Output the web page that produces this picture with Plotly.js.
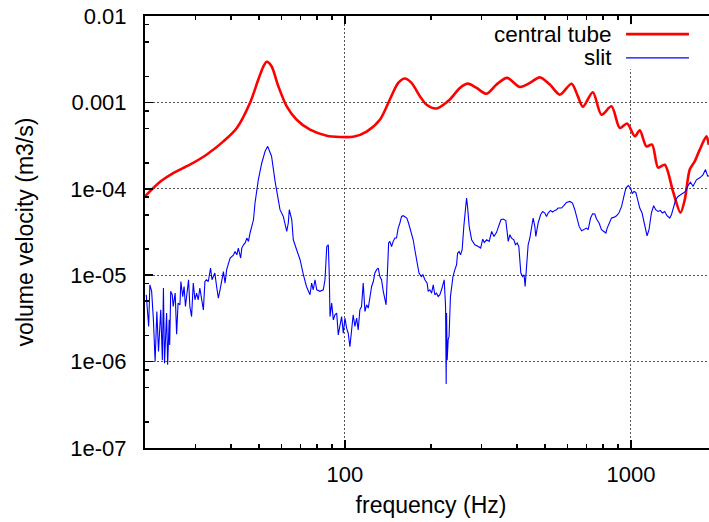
<!DOCTYPE html>
<html>
<head>
<meta charset="utf-8">
<script src="https://cdn.plot.ly/plotly-3.0.1.min.js"></script>
<style>
  html, body { margin: 0; padding: 0; overflow: hidden; background: #fff; }
  #chart { width: 740px; height: 522px; }
</style>
</head>
<body>
<div id="chart"></div>
<script>
// Volume velocity spectra (m3/s) against frequency (Hz)
var centralFreq = [20, 22.7, 25.1, 28.7, 32.8, 37.6, 41.9, 46.6, 49.8, 51.9,
  53.3, 55.4, 58.5, 62.6, 67.8, 75.5, 86.4, 96.1, 106.9, 119.1,
  132.5, 143.6, 153.6, 162.1, 171, 182.9, 193, 209.1, 232.8, 252.3,
  269.2, 288.6, 312.7, 339, 369.2, 408.9, 443.2, 480.3, 520.6, 564.2,
  619.9, 652.3, 679.1, 736, 789, 855.3, 914.4, 969.7, 1032, 1074,
  1133, 1186, 1245, 1313, 1404, 1490, 1543, 1606, 1672, 1741,
  1837, 1871];
var centralVel = [8.2e-5, 1.22e-4, 1.52e-4, 1.9e-4, 2.48e-4, 3.54e-4, 5.06e-4, 9.9e-4, 1.84e-3, 2.62e-3,
  2.95e-3, 2.62e-3, 1.54e-3, 9.0e-4, 6.3e-4, 4.84e-4, 4.12e-4, 3.98e-4, 4.0e-4, 4.6e-4,
  6.3e-4, 1.08e-3, 1.68e-3, 1.89e-3, 1.68e-3, 1.18e-3, 9.4e-4, 8.5e-4, 1.08e-3, 1.47e-3,
  1.65e-3, 1.47e-3, 1.26e-3, 1.61e-3, 1.92e-3, 1.51e-3, 1.68e-3, 1.95e-3, 1.61e-3, 1.23e-3,
  1.64e-3, 1.18e-3, 8.9e-4, 1.31e-3, 7.2e-4, 9.0e-4, 5.06e-4, 5.7e-4, 4.05e-4, 4.75e-4,
  3.1e-4, 3.24e-4, 1.76e-4, 1.9e-4, 9.3e-5, 5.3e-5, 7.5e-5, 1.67e-4, 2.08e-4, 2.84e-4,
  4.05e-4, 3.24e-4];

var slitFreq = [20.2,20.4,20.6,20.8,21.1,21.4,21.7,22.0,22.3,22.7,
  23.0,23.2,23.4,23.8,24.0,24.3,24.4,24.6,24.9,25.1,
  25.5,25.8,26.1,26.5,26.7,27.1,27.4,27.7,28.0,28.4,
  28.7,29.1,29.5,29.9,30.3,30.7,31.1,31.5,32.0,32.4,
  32.8,33.3,33.9,34.3,35.1,35.6,36.1,36.6,37.1,37.6,
  38.1,38.6,39.2,39.7,40.8,41.3,41.9,42.4,43.2,43.6,
  44.2,44.8,45.4,46.0,46.6,47.9,48.5,49.2,49.8,51.2,
  52.6,53.7,55.4,57.0,58.5,59.3,60.9,62.6,63.4,63.9,
  65.2,66.0,67.8,69.7,71.6,73.4,75.5,76.5,77.5,78.6,
  79.7,81.8,84.0,85.2,86.4,87.5,88.2,88.7,89.9,91.1,
  92.3,93.6,94.8,96.1,97.4,98.7,100,101.4,102.7,104.1,
  105.5,106.9,108.4,109.9,111.3,112.8,114.3,115.9,117.5,119.1,
  120.7,122.3,124.0,125.7,127.3,129.1,130.8,132.5,134.3,136.2,
  139.3,141.1,142.2,143.6,145.6,147.5,149.5,151.5,153.6,155.7,
  157.8,159.9,164.6,166.9,171.0,173.3,175.6,178.0,181.6,185.0,
  187.4,190.4,193.9,195.5,198.2,201.0,203.6,206.3,209.1,211.9,
  214.8,217.7,220.7,222.4,224.9,226.0,226.7,227.8,229.6,231.3,
  233.9,236.9,238.7,242.4,245.7,247.7,250.8,253.7,257.0,260.5,
  264.8,266.3,268.4,272,277.4,284.7,292.5,298.3,303.2,307.1,
  313.1,319.6,325.9,332.1,339.0,343.5,351.1,357.8,365.3,372.5,
  377.3,382.5,389.6,394.8,400.1,405.6,412.2,417.8,423.2,426.7,
  431.5,437.2,443.2,449.3,455.2,461.4,465.1,473.9,483.3,491.2,
  500,506.9,513.4,523.5,532.1,541.9,549.4,556.6,572.1,582.8,
  595.6,611.5,624.9,636.6,648.5,659.2,672.1,686.4,699.8,708.9,
  722.7,734.6,747.8,758.2,774.1,789,804.3,817.4,826.1,839.7,
  855.3,871.8,890.8,907.9,927.8,945.1,960.5,978.4,997.7,1010.6,
  1024.6,1040.4,1060,1074,1094,1109,1127,1139,1157,1179,
  1201,1221,1244,1268,1288,1313,1337,1367,1386,1404,
  1434,1462,1491,1522,1552,1584,1615,1649,1695,1741,
  1786,1823,1855,1886];
var slitVel = [5.94e-6,3.32e-6,2.55e-6,7.74e-6,6.5e-6,3.04e-6,1.0e-6,3.8e-6,1.31e-6,3.97e-6,
  1.04e-6,7.1e-6,9.6e-7,3.64e-6,9.2e-7,3.04e-6,1.56e-6,6.5e-6,5.94e-6,4.34e-6,
  6.2e-6,2.08e-6,4.75e-6,4.54e-6,8.45e-6,5.66e-6,7.4e-6,4.34e-6,6.5e-6,8.85e-6,
  4.34e-6,3.32e-6,8.1e-6,5.19e-6,6.2e-6,5.19e-6,7.1e-6,5.66e-6,3.97e-6,8.45e-6,
  8.85e-6,8.45e-6,1.21e-5,8.85e-6,1.06e-5,7.4e-6,5.43e-6,6.78e-6,9.25e-6,1.10e-5,
  8.1e-6,1.16e-5,1.38e-5,1.58e-5,1.72e-5,1.88e-5,1.72e-5,2.06e-5,1.58e-5,2.06e-5,
  2.25e-5,2.36e-5,2.69e-5,2.46e-5,3.08e-5,4.38e-5,6.85e-5,9.76e-5,1.27e-4,1.99e-4,
  2.72e-4,3.1e-4,2.38e-4,1.22e-4,7.47e-5,5.73e-5,4.79e-5,3.21e-5,4.02e-5,5.73e-5,
  4.38e-5,2.57e-5,1.97e-5,1.51e-5,1.01e-5,7.4e-6,5.94e-6,8.1e-6,6.78e-6,8.85e-6,
  6.78e-6,6.5e-6,6.78e-6,8.85e-6,2.15e-5,2.25e-5,9.66e-6,3.32e-6,4.75e-6,3.04e-6,
  3.48e-6,3.64e-6,2.04e-6,2.79e-6,3.32e-6,2.13e-6,3.18e-6,2.44e-6,2.13e-6,1.49e-6,
  2.55e-6,3.48e-6,2.55e-6,3.18e-6,2.33e-6,3.97e-6,4.34e-6,8.1e-6,3.8e-6,4.54e-6,
  4.16e-6,5.43e-6,7.4e-6,8.45e-6,1.06e-5,1.16e-5,1.21e-5,9.66e-6,8.85e-6,6.5e-6,
  4.54e-6,1.26e-5,2.36e-5,2.46e-5,2.15e-5,2.46e-5,2.69e-5,2.69e-5,3.51e-5,4.02e-5,
  4.79e-5,4.88e-5,4.59e-5,4.02e-5,3.08e-5,2.57e-5,1.97e-5,1.51e-5,1.06e-5,9.66e-6,
  1.01e-5,8.85e-6,8.1e-6,6.5e-6,6.78e-6,6.2e-6,7.74e-6,5.94e-6,6.2e-6,5.66e-6,
  5.94e-6,6.78e-6,7.74e-6,8.85e-6,4.34e-6,5.5e-7,3.64e-6,1.04e-6,1.78e-6,1.95e-6,
  5.66e-6,7.4e-6,9.66e-6,1.16e-5,1.32e-5,1.8e-5,1.88e-5,1.72e-5,1.97e-5,3.67e-5,
  6.25e-5,7.83e-5,6.25e-5,3.67e-5,2.57e-5,2.25e-5,2.15e-5,2.06e-5,2.62e-5,2.39e-5,
  2.57e-5,2.46e-5,3.21e-5,2.81e-5,3.13e-5,3.51e-5,4.38e-5,4.47e-5,4.3e-5,2.46e-5,
  2.94e-5,2.69e-5,2.57e-5,2.25e-5,2.36e-5,2.15e-5,1.06e-5,9.66e-6,1.01e-5,7.4e-6,
  1.38e-5,2.25e-5,2.69e-5,3.36e-5,4.59e-5,3.67e-5,2.81e-5,4.02e-5,5.01e-5,5.47e-5,
  5.24e-5,4.79e-5,5.24e-5,5.62e-5,5.39e-5,5.62e-5,5.73e-5,5.99e-5,5.99e-5,6.37e-5,
  6.96e-5,7.14e-5,6.85e-5,5.73e-5,4.38e-5,3.67e-5,3.27e-5,3.36e-5,3.51e-5,3.36e-5,
  4.59e-5,5.14e-5,5.1e-5,4.47e-5,4.02e-5,3.36e-5,3.21e-5,3.08e-5,3.51e-5,4.02e-5,
  4.59e-5,4.67e-5,4.88e-5,5.24e-5,6.25e-5,8.16e-5,1.02e-4,1.09e-4,1.02e-4,8.77e-5,
  9.33e-5,9.08e-5,7.14e-5,5.99e-5,5.24e-5,4.19e-5,3.08e-5,2.86e-5,3.36e-5,5.24e-5,
  6.37e-5,5.73e-5,5.47e-5,5.62e-5,5.24e-5,5.47e-5,4.88e-5,4.59e-5,5.01e-5,5.99e-5,
  7.47e-5,8.16e-5,8.54e-5,8.77e-5,9.33e-5,1.09e-4,1.19e-4,1.07e-4,1.27e-4,1.34e-4,
  1.45e-4,1.67e-4,1.4e-4,1.42e-4];

var seriesNames = ['central tube', 'slit'];

// Axis ticks
var xTickVals = [100, 1000];
var xTickText = ['100', '1000'];
var xMinorVals = [30, 40, 50, 60, 70, 80, 90, 200, 300, 400, 500, 600, 700, 800, 900];
var yTickVals = [1e-7, 1e-6, 1e-5, 1e-4, 1e-3, 1e-2];
var yTickText = ['1e-07', '1e-06', '1e-05', '1e-04', '0.001', '0.01'];
var yMinorVals = [];
yTickVals.slice(0, 5).forEach(function (d) {
  [2, 5, 8].forEach(function (m) { yMinorVals.push(d * m); });
});

var FONT = '"Liberation Sans", Arial, Helvetica, sans-serif';

var traces = [
  {
    x: centralFreq, y: centralVel, name: seriesNames[0],
    type: 'scatter', mode: 'lines',
    line: { color: '#ff0000', width: 2.6, shape: 'spline', smoothing: 0.8 },
    hoverinfo: 'skip'
  },
  {
    x: slitFreq, y: slitVel, name: seriesNames[1],
    type: 'scatter', mode: 'lines',
    line: { color: '#0000ff', width: 1.1 },
    hoverinfo: 'skip'
  }
];

// Key drawn in the upper right: labels on the left, line samples on the right
var keyRowsY = [0.958, 0.903];
var keyColors = ['#ff0000', '#0000ff'];
var keyWidths = [2.6, 1.1];

var shapes = [{
  type: 'rect', xref: 'paper', yref: 'paper',
  x0: 0.60, x1: 1.0, y0: 0.877, y1: 0.981,
  fillcolor: '#ffffff', line: { width: 0 }, layer: 'above'
}];
var annotations = [];
seriesNames.forEach(function (name, i) {
  annotations.push({
    xref: 'paper', yref: 'paper', x: 0.8185, y: keyRowsY[i],
    xanchor: 'right', yanchor: 'middle', showarrow: false,
    height: 21, valign: 'middle', borderpad: 0,
    text: name, font: { family: FONT, size: 22.5, color: '#000' }
  });
  shapes.push({
    type: 'line', xref: 'paper', yref: 'paper',
    x0: 0.841, x1: 0.951, y0: keyRowsY[i], y1: keyRowsY[i],
    line: { color: keyColors[i], width: keyWidths[i] }, layer: 'above'
  });
});

var layout = {
  width: 740, height: 522,
  margin: { l: 145, r: 23, t: 16, b: 74, pad: 0 },
  paper_bgcolor: '#ffffff', plot_bgcolor: '#ffffff',
  showlegend: false,
  font: { family: FONT, size: 22, color: '#000' },
  xaxis: {
    type: 'log', range: [Math.log10(20), Math.log10(2000)],
    tickmode: 'array', tickvals: xTickVals, ticktext: xTickText,
    ticks: 'inside', ticklen: 8, tickwidth: 1.6, tickcolor: '#000',
    showline: true, linewidth: 2, linecolor: '#000', mirror: 'ticks',
    showgrid: true, gridcolor: '#555', gridwidth: 1, griddash: '2px,2px',
    zeroline: false, ticklabelstandoff: 6,
    tickfont: { family: FONT, size: 22 },
    minor: { tickmode: 'array', tickvals: xMinorVals, ticks: 'inside', ticklen: 4,
             tickwidth: 1.6, tickcolor: '#000', showgrid: false },
    title: { text: 'frequency (Hz)', font: { family: FONT, size: 23 }, standoff: 10 }
  },
  yaxis: {
    type: 'log', range: [-7, -2],
    tickmode: 'array', tickvals: yTickVals, ticktext: yTickText,
    ticks: 'inside', ticklen: 8, tickwidth: 1.6, tickcolor: '#000',
    showline: true, linewidth: 2, linecolor: '#000', mirror: 'ticks',
    showgrid: true, gridcolor: '#555', gridwidth: 1, griddash: '2px,2px',
    zeroline: false, ticklabelstandoff: 12,
    tickfont: { family: FONT, size: 22 },
    minor: { tickmode: 'array', tickvals: yMinorVals, ticks: 'inside', ticklen: 4,
             tickwidth: 1.6, tickcolor: '#000', showgrid: false },
    title: { text: 'volume velocity (m3/s)', font: { family: FONT, size: 23 }, standoff: 30 }
  },
  shapes: shapes,
  annotations: annotations
};

Plotly.newPlot('chart', traces, layout, { displayModeBar: false, staticPlot: true });
</script>
</body>
</html>
